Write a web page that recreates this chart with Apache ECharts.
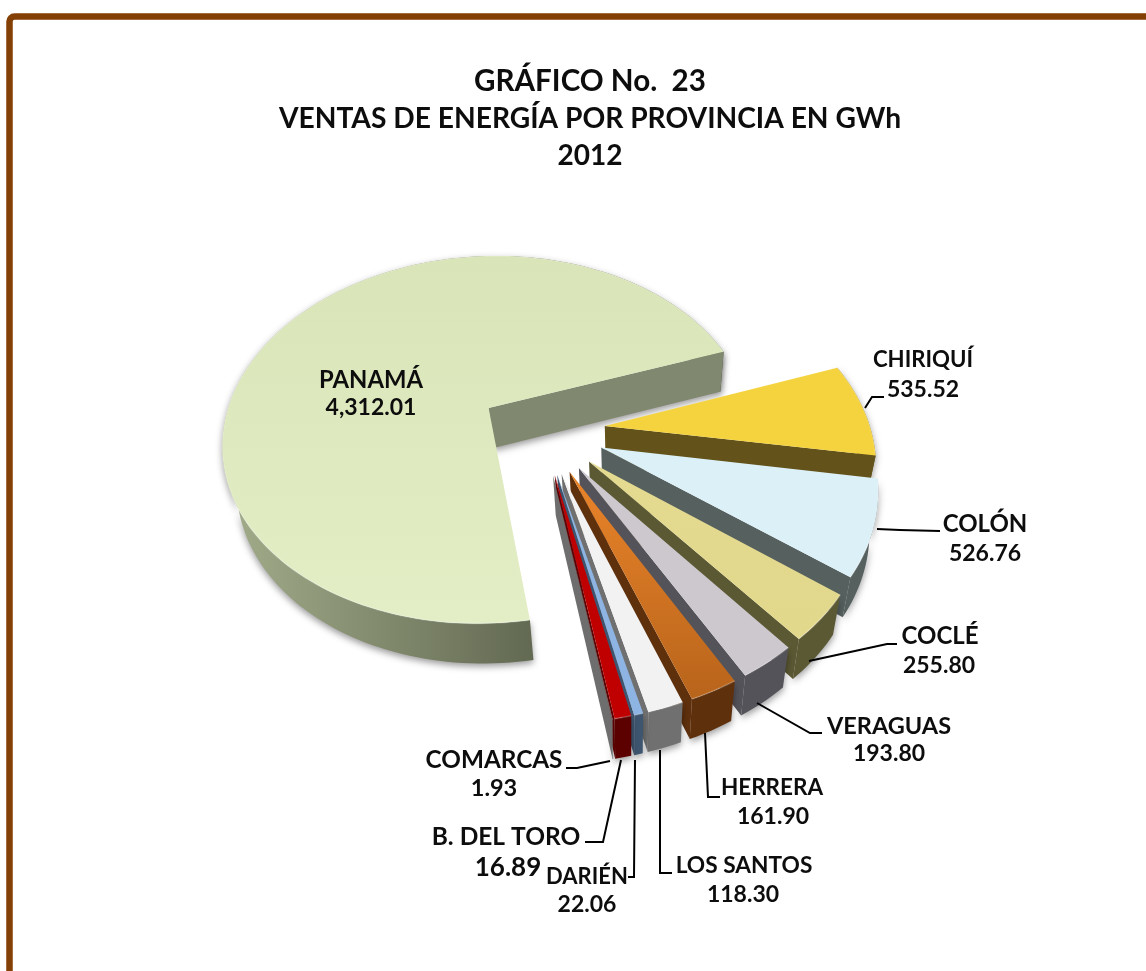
<!DOCTYPE html>
<html>
<head>
<meta charset="utf-8">
<title>Ventas de energía por provincia</title>
<script src="https://cdn.jsdelivr.net/npm/echarts@6/dist/echarts.min.js"></script>
<style>
  html, body { margin: 0; padding: 0; background: #fff; }
  #chart { width: 1146px; height: 971px; }
</style>
</head>
<body>
<div id="chart"></div>
<script>
// datos
const provincias = ['PANAMÁ', 'CHIRIQUÍ', 'COLÓN', 'COCLÉ', 'VERAGUAS', 'HERRERA', 'LOS SANTOS', 'DARIÉN', 'B. DEL TORO', 'COMARCAS']
const ventas = [4312.01, 535.52, 526.76, 255.8, 193.8, 161.9, 118.3, 22.06, 16.89, 1.93]

// colores: cara superior y pared
const colorTop = [
  ['#d9e4b8', '#e3eec6'], ['#f5d33e', '#f5d33e'], ['#dcf0f7', '#dcf0f7'], ['#e4da90', '#e2d88c'], ['#cdc8ce', '#cdc8ce'],
  ['#ea842a', '#b8641b'], ['#f2f2f2', '#f2f2f2'], ['#8db4e2', '#8db4e2'], ['#c00000', '#c00000'], ['#8a8a8a', '#8a8a8a']
]
const colorWall = ['#80886f', '#63531a', '#55605f', '#5b5834', '#55535a', '#5f300c', '#707070', '#3e556f', '#5c0000', '#6e6e6e']
const panamaRim = ['#a3ad8b', '#555b46']

// proyeccion del disco
const CX = 542, CY = 430, R = 266, RY = 186, P = 0.176
const H = 40, X0 = 630, K = 0.035
const EXPLODE = 0.238
const START = -19.5
// la imagen comprime las rebanadas grandes y ensancha las dos mas finas
const SWEEP_TRIM = 0.908
const sweepExtra = [0, 0, 0, 0, 0, 0, 0, 0.4, 2, 0]

const total = ventas.reduce((a, b) => a + b, 0)
const sweeps = ventas.map((v, i) => (v / total) * 360 * SWEEP_TRIM + sweepExtra[i])
sweeps[0] = 360 - sweeps.slice(1).reduce((a, b) => a + b, 0)

function project(u, v, low) {
  const s = 1 / (1 - P * v)
  let x = CX + R * u * s
  let y = CY + RY * v * s
  if (low) {
    x += (X0 - x) * K
    y += H
  }
  return [x, y]
}

function sliceAngles(i) {
  // panama termina en START, las demas siguen en sentido horario
  if (i === 0) return [START - sweeps[0], START]
  let a = START
  for (let k = 1; k < i; k++) a += sweeps[k]
  return [a, a + sweeps[i]]
}

function renderSlice(params, api) {
  const i = params.dataIndex
  api.value(0)
  const [a0, a1] = sliceAngles(i)
  const mid = (((a0 + a1) / 2) * Math.PI) / 180
  const ou = EXPLODE * Math.cos(mid)
  const ov = EXPLODE * Math.sin(mid)
  const n = Math.max(2, Math.ceil((a1 - a0) / 1.5))
  const rim = []
  for (let k = 0; k <= n; k++) {
    const t = ((a0 + ((a1 - a0) * k) / n) * Math.PI) / 180
    rim.push([ou + Math.cos(t), ov + Math.sin(t)])
  }
  const top = rim.map((p) => project(p[0], p[1], false))
  const low = rim.map((p) => project(p[0], p[1], true))
  const apexT = project(ou, ov, false)
  const apexL = project(ou, ov, true)
  const endT = top[top.length - 1]
  const endL = low[low.length - 1]

  const shadow = { shadowColor: 'rgba(0,0,0,0.4)', shadowBlur: 7, shadowOffsetY: 3 }
  const rimFill =
    i === 0
      ? new echarts.graphic.LinearGradient(0, 0, 1, 0, [
          { offset: 0, color: panamaRim[0] },
          { offset: 0.75, color: panamaRim[1] },
          { offset: 1, color: panamaRim[1] }
        ])
      : colorWall[i]
  return {
    type: 'group',
    children: [
      {
        type: 'polygon',
        shape: { points: top.concat(low.slice().reverse()) },
        style: Object.assign({ fill: rimFill }, shadow)
      },
      {
        type: 'polygon',
        shape: { points: [apexT, endT, endL, apexL] },
        style: Object.assign({ fill: colorWall[i] }, i === 0 ? shadow : {})
      },
      {
        type: 'polygon',
        shape: { points: [apexT].concat(top) },
        style: {
          fill: new echarts.graphic.LinearGradient(0, 0, 0, 1, [
            { offset: 0, color: colorTop[i][0] },
            { offset: 1, color: colorTop[i][1] }
          ])
        }
      },
      {
        type: 'polyline',
        shape: { points: top },
        style: { fill: null, stroke: 'rgba(255,255,255,0.22)', lineWidth: 1.5 }
      }
    ]
  }
}

// textos y guias: [x, y, tamaño]
const fmt = (v) => v.toLocaleString('en-US', { minimumFractionDigits: 2, maximumFractionDigits: 2 })
const namePos = [
  [371, 380, 23.8], [923, 360, 22.2], [985, 524, 24], [940, 636, 24], [889, 726, 23.5],
  [772, 788, 22.5], [744, 866, 22.7], [587, 877, 22], [506, 837, 24.5], [494, 760, 24.3]
]
const valuePos = [
  [371, 408, 23], [923, 390, 23], [985, 554, 23], [939, 666, 23], [889, 754, 23],
  [773, 817, 23], [743, 895, 23], [587, 905, 23], [508, 868, 26], [494, 788, 23.5]
]
const leaders = [
  null,
  [[865, 408], [872, 397], [884, 397]],
  [[877, 529], [900, 530], [940, 531]],
  [[809, 661], [887, 644], [897, 644]],
  [[757, 703], [810, 733], [822, 733]],
  [[705, 733], [708, 797], [720, 797]],
  [[660, 750], [660, 873], [672, 873]],
  [[635, 760], [634, 877], [628, 877]],
  [[621, 760], [603, 842], [585, 842]],
  [[610, 761], [577, 768], [566, 768]]
]
const titulos = ['GRÁFICO No.  23', 'VENTAS DE ENERGÍA POR PROVINCIA EN GWh', '2012']
const tituloPos = [[590, 63, 29.6], [590, 100, 28.2], [590, 137, 28]]

const graphics = [
  {
    type: 'rect',
    shape: { x: 9.5, y: 16.5, width: 1300, height: 1100, r: 5 },
    style: { fill: null, stroke: '#843f04', lineWidth: 6.5 }
  }
]
leaders.forEach((pts) => {
  if (!pts) return
  graphics.push({
    type: 'polyline',
    z: 10,
    shape: { points: pts },
    style: { fill: null, stroke: '#000', lineWidth: 2 }
  })
})
function addText(text, pos) {
  graphics.push({
    type: 'text',
    z: 11,
    x: pos[0],
    y: pos[1],
    style: {
      text: text,
      fill: '#0d0d0d',
      font: 'bold ' + pos[2] + 'px Lato',
      align: 'center',
      verticalAlign: 'middle'
    }
  })
}
provincias.forEach((name, i) => {
  addText(name, namePos[i])
  addText(fmt(ventas[i]), valuePos[i])
})

const chart = echarts.init(document.getElementById('chart'), null, { renderer: 'canvas' })
chart.setOption({
  animation: false,
  backgroundColor: '#fff',
  title: titulos.map((t, i) => ({
    text: t,
    left: tituloPos[i][0],
    top: tituloPos[i][1],
    padding: 0,
    textAlign: 'center',
    textStyle: { fontFamily: 'Lato', fontWeight: 'bold', fontSize: tituloPos[i][2], lineHeight: 37, color: '#0d0d0d' }
  })),
  graphic: graphics,
  series: [
    {
      type: 'custom',
      coordinateSystem: 'none',
      silent: true,
      renderItem: renderSlice,
      data: ventas.map((v) => [v])
    }
  ]
})
</script>
</body>
</html>
